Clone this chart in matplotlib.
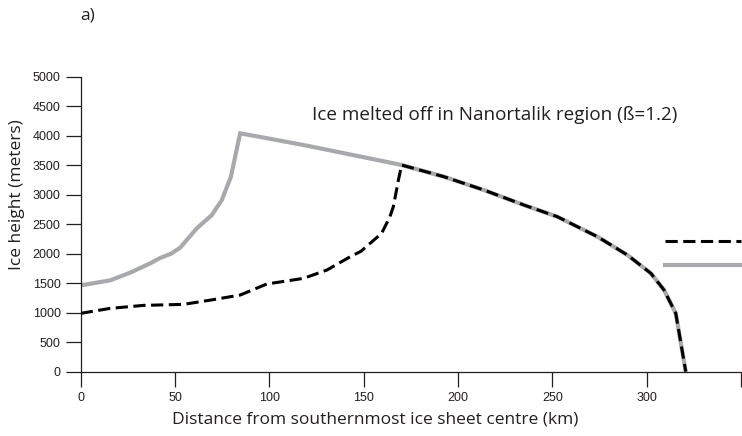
import matplotlib
matplotlib.use("Agg")
import matplotlib.pyplot as plt
from matplotlib.lines import Line2D

# ---- data ----
gray_x = [0, 15.6, 26.2, 36.8, 42.1, 47.9, 52.7, 61.5, 69.5, 74.8, 79.6, 84.5,
          100, 120, 140, 160, 170.1, 192.5, 213.7, 234.9, 252.6, 273.9,
          289.8, 302.2, 309.2, 315.4, 320.7]
gray_y = [1463, 1548, 1678, 1836, 1927, 2000, 2102, 2429, 2655, 2910, 3305, 4040,
          3950, 3830, 3700, 3570, 3503, 3305, 3079, 2825, 2627, 2288,
          1977, 1667, 1384, 989, 0]

dash_x = [0, 15.6, 33.3, 54.5, 70, 84.5, 98.6, 118.1, 130.5, 142.9, 148.5,
          159.5, 163.9, 165.7, 168.4, 170.1, 192.5, 213.7, 234.9, 252.6, 273.9,
          289.8, 302.2, 309.2, 315.4, 320.7]
dash_y = [989, 1073, 1124, 1141, 1220, 1299, 1486, 1582, 1723, 1949, 2040,
          2345, 2627, 2797, 3249, 3503, 3305, 3079, 2825, 2627, 2288,
          1977, 1667, 1384, 989, 0]

x_ticks = [0, 50, 100, 150, 200, 250, 300, 350]
x_tick_labels = ["0", "50", "100", "150", "200", "250", "300", ""]
y_ticks = [0, 500, 1000, 1500, 2000, 2500, 3000, 3500, 4000, 4500, 5000]

title_text = "Ice melted off in Nanortalik region (\u00df=1.2)"
x_label = "Distance from southernmost ice sheet centre (km)"
y_label = "Ice height (meters)"
panel_label = "a)"

GRAY = "#a7a9ac"
TXT_FONT = ["Open Sans", "DejaVu Sans"]
TICK_FONT = ["Liberation Sans Narrow", "Liberation Sans", "DejaVu Sans"]

fig = plt.figure(figsize=(7.42, 4.36), dpi=100)
ax = fig.add_axes([0.1088, 0.1475, 0.8899, 0.6766])

ax.plot(gray_x, gray_y, color=GRAY, lw=3.0, solid_joinstyle="miter",
        solid_capstyle="butt", zorder=2)
ax.plot(dash_x, dash_y, color="black", lw=2.2, dashes=(4.0, 1.8),
        dash_capstyle="butt", zorder=3)

ax.set_xlim(0, 350)
ax.set_ylim(0, 5000)
for s in ["top", "right"]:
    ax.spines[s].set_visible(False)
for s in ["left", "bottom"]:
    ax.spines[s].set_linewidth(0.9)
    ax.spines[s].set_color("#231f20")

ax.set_xticks(x_ticks)
ax.set_xticklabels(x_tick_labels)
ax.set_yticks(y_ticks)
ax.tick_params(axis="both", direction="out", length=10.5, width=0.9,
               color="#231f20", labelsize=9, pad=4)
for lab in ax.get_xticklabels() + ax.get_yticklabels():
    lab.set_family(TICK_FONT)
    lab.set_color("#231f20")

ax.set_xlabel(x_label, fontsize=12.5, family=TXT_FONT, color="#231f20",
              labelpad=2)
ax.xaxis.set_label_coords(0.446, -0.135)
ax.set_ylabel(y_label, fontsize=12.5, family=TXT_FONT, color="#231f20")
ax.yaxis.set_label_coords(-0.085, 0.6)

ax.text(122.4, 4258, title_text, fontsize=13.6, family=TXT_FONT,
        color="#231f20", ha="left", va="baseline")

fig.text(80 / 742, 1 - 15 / 436, panel_label, fontsize=12.5, family=TXT_FONT,
         color="#231f20", ha="left", va="center")

handles = [Line2D([], [], color="black", lw=2.2, dashes=(4.0, 1.8)),
           Line2D([], [], color=GRAY, lw=3.0)]
ax.legend(handles, ["", ""], loc="center right", bbox_to_anchor=(1.0, 0.40),
          frameon=False, fontsize=10, handlelength=5.47, handletextpad=0,
          borderpad=0, borderaxespad=0, labelspacing=0.75)

fig.savefig("out.png", dpi=100)
